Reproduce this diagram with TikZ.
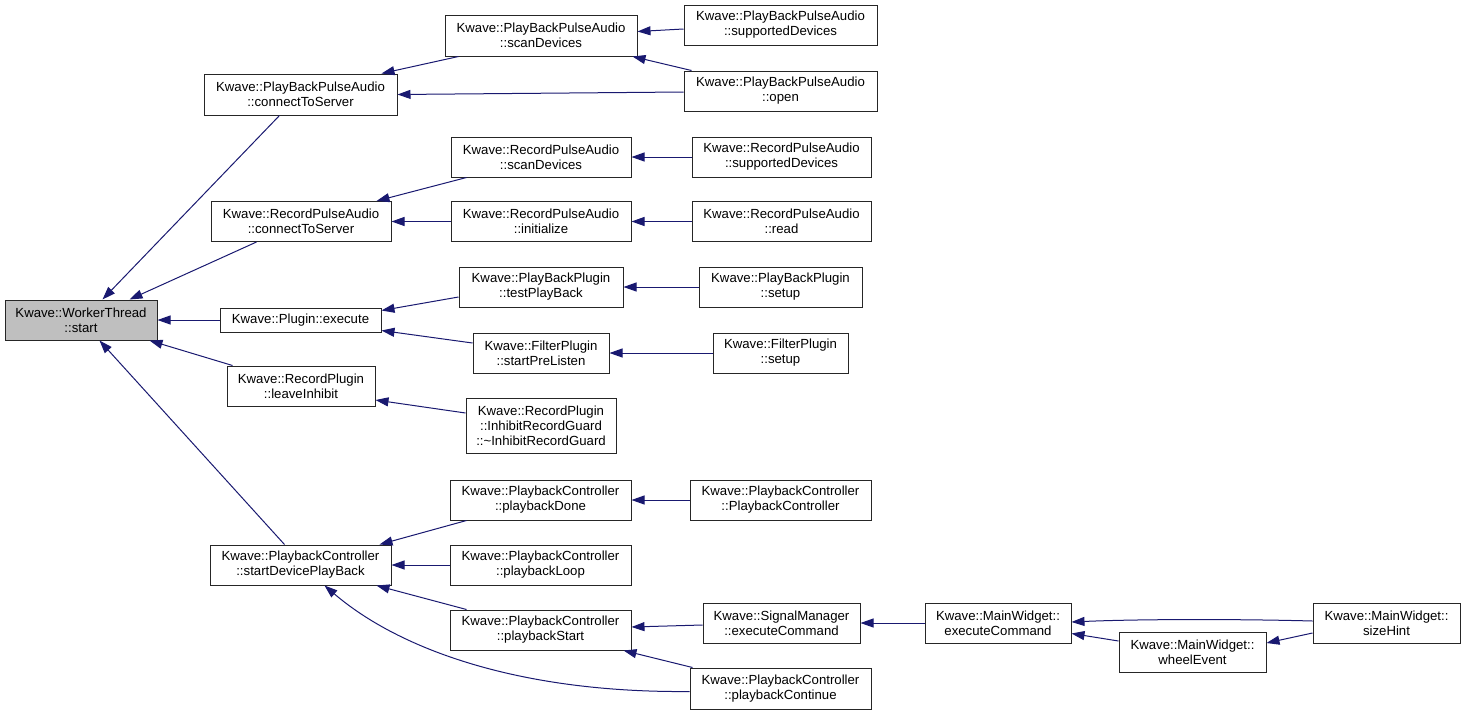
\documentclass[tikz,border=0pt]{standalone}
\usepackage{fontspec}
\setmainfont{Liberation Sans}
\usetikzlibrary{arrows.meta,calc}
\definecolor{edgeblue}{HTML}{191970}
\definecolor{startgray}{HTML}{BFBFBF}
\begin{document}
\begin{tikzpicture}[x=1pt,y=-1pt,
  box/.style={draw=black!85, line width=1pt, fill=white, inner sep=0pt, align=center,
    font=\fontsize{13.2}{15}\selectfont, minimum height=40pt},
  edge/.style={draw=edgeblue, line width=1pt, -{Triangle[length=13pt,width=9pt]}}]
\useasboundingbox (0,0) rectangle (1467,715);

% column 0
\node[box, fill=startgray, minimum width=152pt] (start) at (81,320) {Kwave::WorkerThread\\::start};
% column 1
\node[box, minimum width=193pt, minimum height=41pt] (pbcts) at (300.5,94.5) {Kwave::PlayBackPulseAudio\\::connectToServer};
\node[box, minimum width=180pt] (rcts) at (301,221.5) {Kwave::RecordPulseAudio\\::connectToServer};
\node[box, minimum width=161pt, minimum height=24pt] (exec) at (300.5,320) {Kwave::Plugin::execute};
\node[box, minimum width=148pt] (leave) at (301,386) {Kwave::RecordPlugin\\::leaveInhibit};
\node[box, minimum width=181pt] (sdpb) at (300.5,565) {Kwave::PlaybackController\\::startDevicePlayBack};
% column 2
\node[box, minimum width=192pt, minimum height=41pt] (pbscan) at (541,35.5) {Kwave::PlayBackPulseAudio\\::scanDevices};
\node[box, minimum width=180pt] (rscan) at (541,157) {Kwave::RecordPulseAudio\\::scanDevices};
\node[box, minimum width=180pt] (rinit) at (541,221.5) {Kwave::RecordPulseAudio\\::initialize};
\node[box, minimum width=164pt] (testpb) at (541,287) {Kwave::PlayBackPlugin\\::testPlayBack};
\node[box, minimum width=136pt] (prelisten) at (541,353) {Kwave::FilterPlugin\\::startPreListen};
\node[box, minimum width=150pt, minimum height=55pt] (guard) at (541,425.5) {Kwave::RecordPlugin\\::InhibitRecordGuard\\::\textasciitilde InhibitRecordGuard};
\node[box, minimum width=181pt] (pbdone) at (540.5,500) {Kwave::PlaybackController\\::playbackDone};
\node[box, minimum width=181pt] (pbloop) at (540.5,565) {Kwave::PlaybackController\\::playbackLoop};
\node[box, minimum width=181pt] (pbstart) at (540.5,630) {Kwave::PlaybackController\\::playbackStart};
% column 3
\node[box, minimum width=193pt] (pbsup) at (780.5,25) {Kwave::PlayBackPulseAudio\\::supportedDevices};
\node[box, minimum width=193pt] (pbopen) at (780.5,91) {Kwave::PlayBackPulseAudio\\::open};
\node[box, minimum width=179pt] (rsup) at (781.5,157) {Kwave::RecordPulseAudio\\::supportedDevices};
\node[box, minimum width=179pt] (rread) at (781.5,221.5) {Kwave::RecordPulseAudio\\::read};
\node[box, minimum width=163pt] (pbsetup) at (780.5,287) {Kwave::PlayBackPlugin\\::setup};
\node[box, minimum width=135pt] (fsetup) at (780.5,353) {Kwave::FilterPlugin\\::setup};
\node[box, minimum width=181pt] (pbctor) at (780.5,500) {Kwave::PlaybackController\\::PlaybackController};
\node[box, minimum width=157pt] (smexec) at (781.5,623) {Kwave::SignalManager\\::executeCommand};
\node[box, minimum width=181pt, minimum height=41pt] (pbcont) at (780.5,688.5) {Kwave::PlaybackController\\::playbackContinue};
% columns 4-6
\node[box, minimum width=146pt] (mwexec) at (998,623) {Kwave::MainWidget::\\executeCommand};
\node[box, minimum width=147pt] (wheel) at (1192.5,652) {Kwave::MainWidget::\\wheelEvent};
\node[box, minimum width=147pt] (size) at (1386.5,623) {Kwave::MainWidget::\\sizeHint};

% edges (caller -> callee)
\draw[edge] ($(pbcts.south west)+(76,0)$) -- ($(start.north west)+(98,0)$);
\draw[edge] ($(rcts.south west)+(46,0)$) -- ($(start.north west)+(125,0)$);
\draw[edge] (exec.west) -- (start.east);
\draw[edge] ($(leave.north west)+(6,0)$) -- ($(start.south west)+(145,0)$);
\draw[edge] ($(sdpb.north west)+(75,0)$) -- ($(start.south west)+(95,0)$);

\draw[edge] ($(pbscan.south west)+(14,0)$) -- ($(pbcts.north west)+(178,0)$);
\draw[edge] ($(pbopen.west)+(0,1)$) -- (pbcts.east);
\draw[edge] ($(pbsup.west)+(0,4)$) -- ($(pbscan.east)+(0,-4)$);
\draw[edge] ($(pbopen.north west)+(8,0)$) -- ($(pbscan.south east)+(-5,0)$);

\draw[edge] ($(rscan.south west)+(16,0)$) -- ($(rcts.north west)+(166,0)$);
\draw[edge] (rinit.west) -- (rcts.east);
\draw[edge] (rsup.west) -- (rscan.east);
\draw[edge] (rread.west) -- (rinit.east);

\draw[edge] ($(testpb.west)+(0,10)$) -- ($(exec.north east)+(0,3)$);
\draw[edge] ($(prelisten.west)+(0,-10)$) -- ($(exec.south east)+(0,-2)$);
\draw[edge] (pbsetup.west) -- (testpb.east);
\draw[edge] (fsetup.west) -- (prelisten.east);
\draw[edge] ($(guard.west)+(0,-12.5)$) -- ($(leave.east)+(0,14)$);

\draw[edge] ($(pbdone.south west)+(17,0)$) -- ($(sdpb.north west)+(170,0)$);
\draw[edge] (pbctor.west) -- (pbdone.east);
\draw[edge] (pbloop.west) -- (sdpb.east);
\draw[edge] ($(pbstart.north west)+(17,0)$) -- ($(sdpb.south west)+(167,0)$);
\draw[edge] ($(pbcont.west)+(0,3)$) .. controls (520,693) and (400,650) .. ($(sdpb.south west)+(115,0)$);
\draw[edge] ($(smexec.west)+(0,2)$) -- ($(pbstart.east)+(0,-3)$);
\draw[edge] ($(pbcont.north west)+(3,0)$) -- ($(pbstart.south east)+(-8,0)$);

\draw[edge] (mwexec.west) -- (smexec.east);
\draw[edge] ($(size.west)+(0,-2)$) .. controls (1240,619) and (1140,619) .. ($(mwexec.east)+(0,-1)$);
\draw[edge] ($(wheel.west)+(0,-11)$) -- ($(mwexec.south east)+(0,-10)$);
\draw[edge] ($(size.west)+(0,10)$) -- ($(wheel.east)+(0,-9)$);
\end{tikzpicture}
\end{document}
